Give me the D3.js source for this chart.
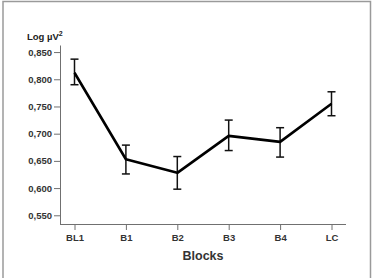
<!DOCTYPE html>
<html><head><meta charset="utf-8">
<script src="https://cdn.jsdelivr.net/npm/d3@7"></script>
<style>body{margin:0;background:#fff}svg{display:block}</style>
</head><body>
<script>
const categories = ["BL1","B1","B2","B3","B4","LC"];
const means = [0.812,0.653,0.628,0.696,0.685,0.755];
const upper = [0.837,0.679,0.658,0.725,0.711,0.777];
const lower = [0.790,0.626,0.598,0.669,0.657,0.733];
const yTicks = [0.550,0.600,0.650,0.700,0.750,0.800,0.850];
const yDomain = [0.534,0.863];

const W=376,H=278;
const svg=d3.select("body").append("svg").attr("width",W).attr("height",H);
svg.append("path").attr("d",`M3,${H+2}V1.5H370.5V${H+2}`).attr("fill","none").attr("stroke","#9a9a9a").attr("stroke-width",1.5);

const x=d3.scalePoint().domain(categories).range([74.5,331.5]);
const y=d3.scaleLinear().domain(yDomain).range([224,45]);
const font="'Liberation Sans', Arial, sans-serif";
const axisCol="#707070";

// y axis
const gy=svg.append("g").attr("transform","translate(60,0)")
  .call(d3.axisLeft(y).tickValues(yTicks).tickSize(6).tickSizeOuter(0).tickFormat(d=>d3.format(".3f")(d).replace(".",",")));
gy.select(".domain").attr("stroke",axisCol);
gy.selectAll(".tick line").attr("stroke",axisCol);
gy.selectAll(".tick text").attr("font-family",font).attr("font-size",9.5).attr("font-weight","bold").attr("fill","#333").attr("x",-8);

// x axis
const gx=svg.append("g").attr("transform","translate(0,224)")
  .call(d3.axisBottom(x).tickSize(6).tickSizeOuter(0));
gx.select(".domain").attr("d","M60,0.5H346").attr("stroke",axisCol);
gx.selectAll(".tick line").attr("stroke",axisCol);
gx.selectAll(".tick text").attr("font-family",font).attr("font-size",9.5).attr("font-weight","bold").attr("fill","#333").attr("y",10);

// y label
const yl=svg.append("text").attr("x",27).attr("y",40).attr("font-family",font).attr("font-size",9.5).attr("font-weight","bold").attr("fill","#222");
yl.append("tspan").text("Log \u00b5V");
yl.append("tspan").attr("dy",-4).attr("font-size",7).text("2");

// x label
svg.append("text").attr("x",203).attr("y",260).attr("text-anchor","middle").attr("font-family",font).attr("font-size",12.5).attr("font-weight","bold").attr("fill","#333").text("Blocks");

// error bars
const eb=svg.append("g").attr("stroke","#111").attr("stroke-width",1.5);
categories.forEach((c,i)=>{
  const cx=x(c);
  eb.append("line").attr("x1",cx).attr("x2",cx).attr("y1",y(upper[i])).attr("y2",y(lower[i]));
  eb.append("line").attr("x1",cx-4).attr("x2",cx+4).attr("y1",y(upper[i])).attr("y2",y(upper[i]));
  eb.append("line").attr("x1",cx-4).attr("x2",cx+4).attr("y1",y(lower[i])).attr("y2",y(lower[i]));
});

// line
svg.append("path").datum(means.map((m,i)=>[x(categories[i]),y(m)]))
  .attr("d",d3.line()).attr("fill","none").attr("stroke","#000").attr("stroke-width",2.6).attr("stroke-linejoin","round");
</script>
</body></html>
